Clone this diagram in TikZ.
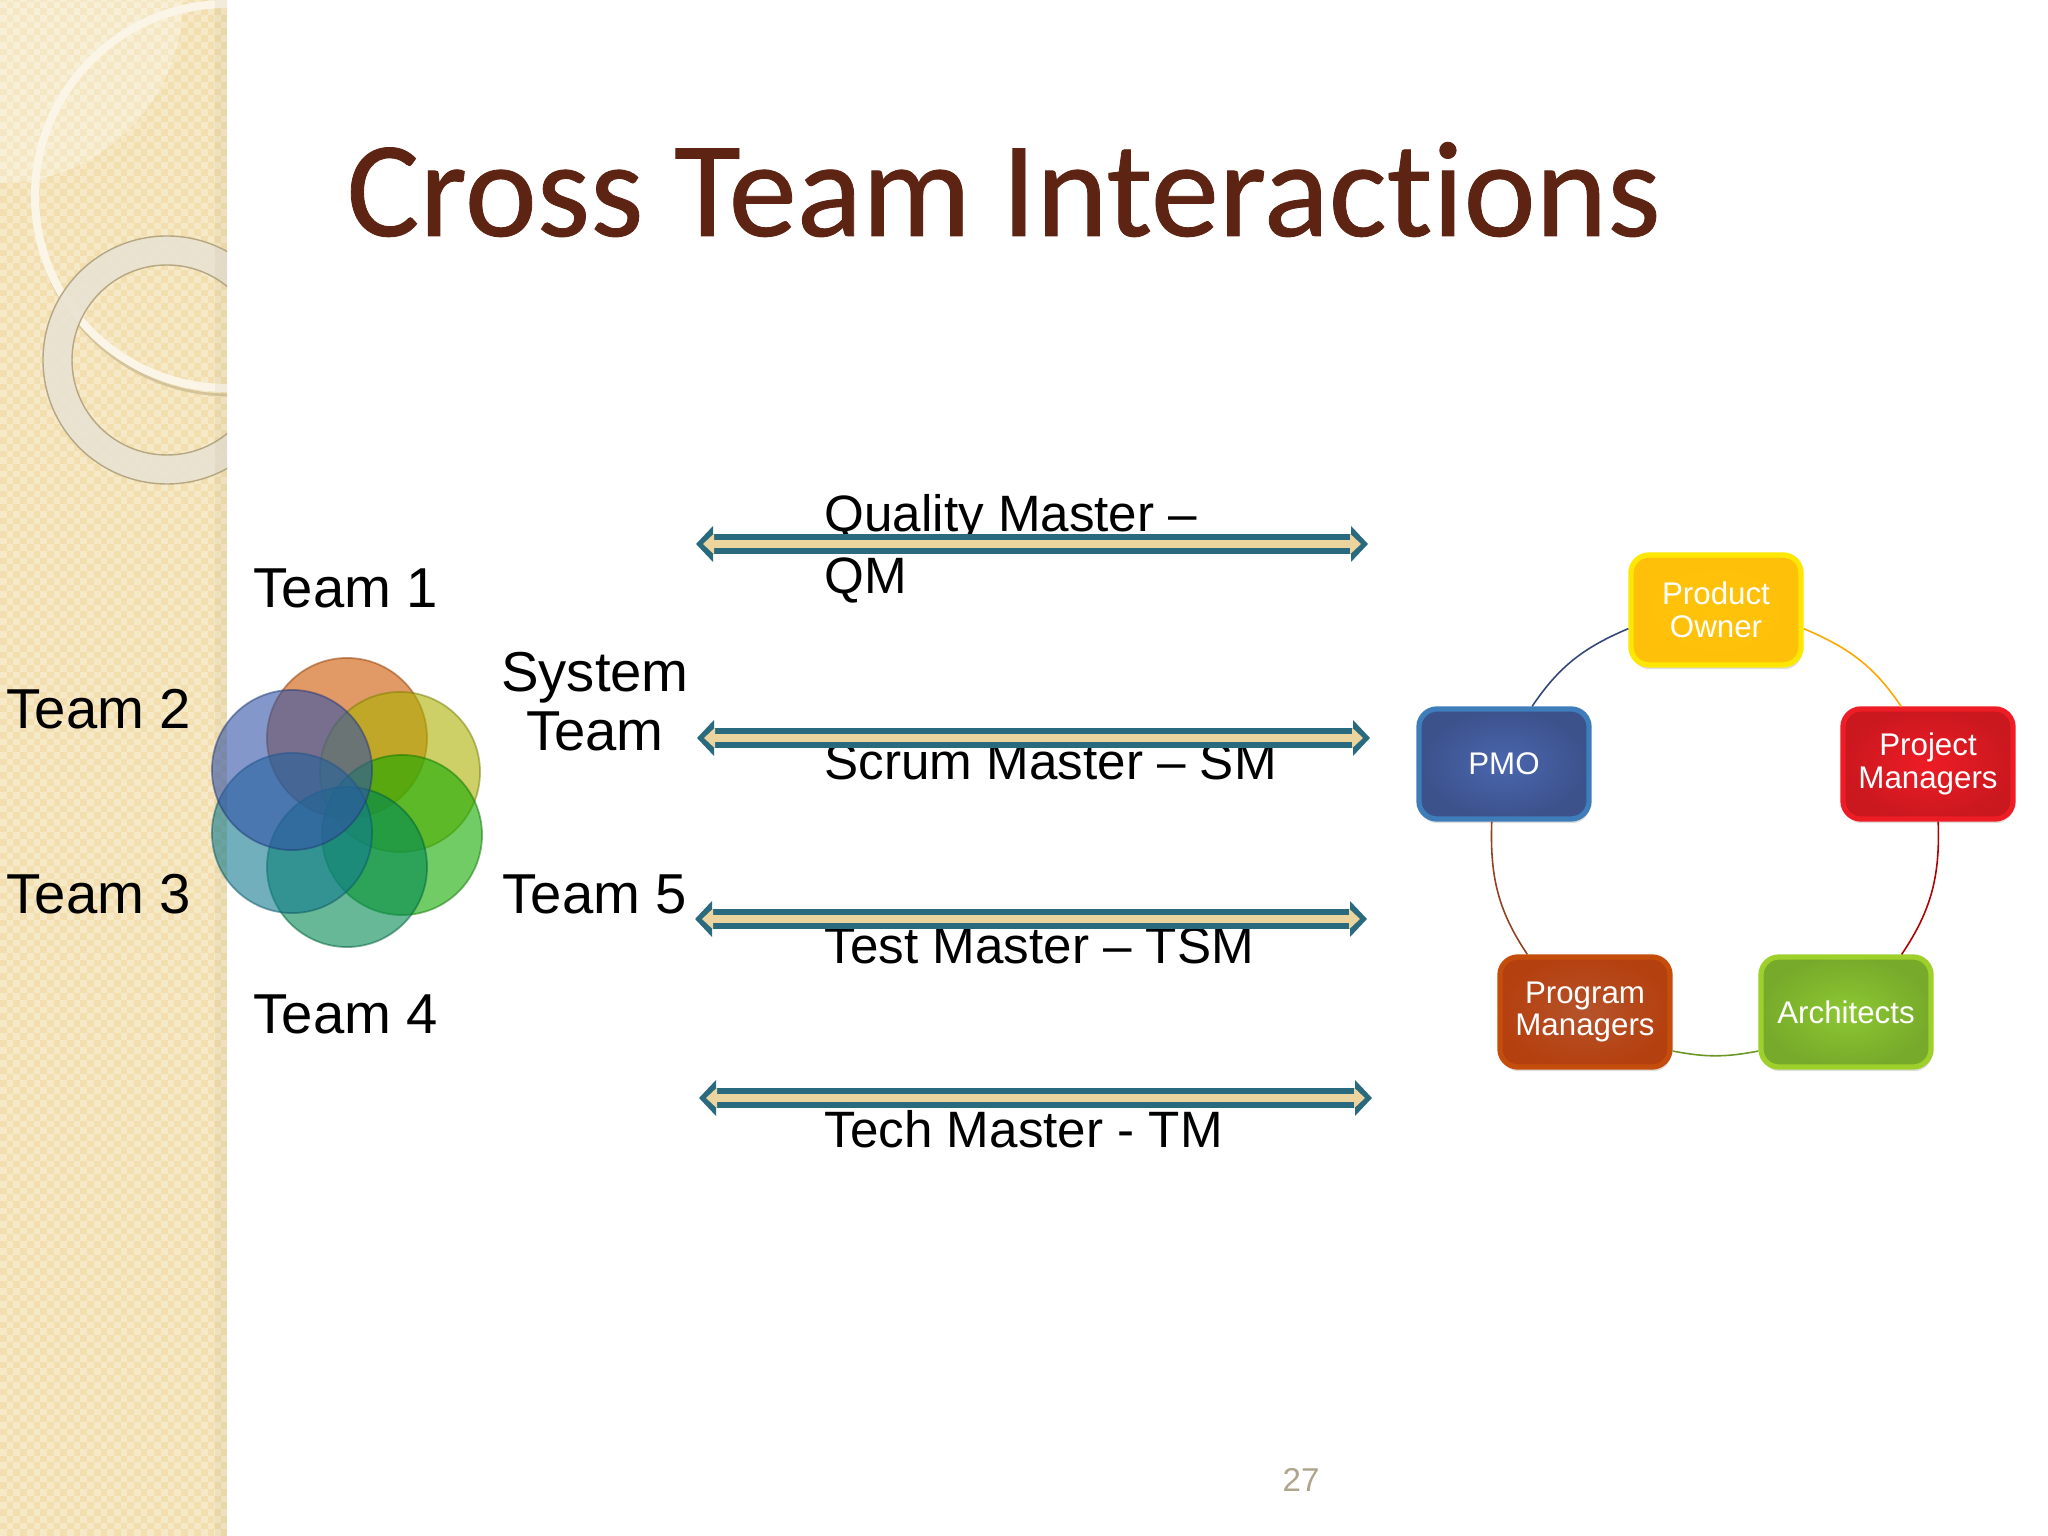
\documentclass[tikz,border=0pt]{standalone}
\usepackage{fontspec}
\setmainfont{Liberation Sans}
\newfontfamily\titlefont[Ligatures=NoCommon,FakeBold=0.6]{Carlito}
\usetikzlibrary{arrows.meta,shadows}
\definecolor{sidebase}{HTML}{F2DEAE}
\definecolor{sidecheck}{HTML}{F6E9C8}
\definecolor{sidering}{HTML}{E9E3D2}
\definecolor{titlebrown}{HTML}{5E2413}
\definecolor{barteal}{HTML}{2A6A7E}
\definecolor{bartan}{HTML}{EBD49E}
\definecolor{numgrey}{HTML}{AFA58C}
\definecolor{blobor}{RGB}{205,85,0}
\definecolor{bloby}{RGB}{172,177,0}
\definecolor{blobg}{RGB}{20,170,0}
\definecolor{blobs}{RGB}{0,137,83}
\definecolor{blobt}{RGB}{17,123,143}
\definecolor{blobb}{RGB}{50,82,167}
\definecolor{pofill}{HTML}{FFC30A}
\definecolor{pmfill}{HTML}{EE1C25}
\definecolor{arfill}{HTML}{8CC832}
\definecolor{pgfill}{HTML}{B5532B}
\definecolor{pgedge}{HTML}{B5400F}
\definecolor{pmofill}{HTML}{4A66AE}
\tikzset{
  teamtxt/.style={font=\fontsize{16}{16.8}\selectfont, align=center, inner sep=0pt},
  mastertxt/.style={font=\fontsize{14.55}{17.5}\selectfont, align=left, inner sep=0pt},
  blob/.style={circle, minimum size=1.6cm, inner sep=0pt, fill=#1, draw=#1!70!black, line width=.5pt, fill opacity=.6, draw opacity=.5},
  rolebox/.style={rectangle, rounded corners=.18cm, minimum width=1.7cm, minimum height=1.1cm, inner sep=0pt,
    align=center, text=white, font=\fontsize{8.9}{9.3}\selectfont, line width=1.5pt, draw=#1,
    drop shadow={shadow xshift=.3pt, shadow yshift=-1.2pt, opacity=.25}},
  roleline/.style={line width=.45pt},
  barout/.style={barteal, line width=5.5pt, {Triangle[length=.17cm,width=.35cm]}-{Triangle[length=.17cm,width=.35cm]}},
  barin/.style={bartan, line width=2pt, shorten >=.07cm, shorten <=.07cm, {Triangle[length=.11cm,width=.2cm]}-{Triangle[length=.11cm,width=.2cm]}},
}
\begin{document}
\begin{tikzpicture}[x=.01cm,y=.01cm]
\useasboundingbox (0,0) rectangle (2048,1536);
\fill[white] (0,0) rectangle (2048,1536);
% sidebar
\begin{scope}
\clip (0,0) rectangle (227,1536);
\fill[sidebase] (0,0) rectangle (227,1536);
\foreach \i in {0,...,17}
  \foreach \j in {0,...,115} {
    \fill[sidecheck] (\i*13.4,\j*13.4) rectangle ++(6.7,6.7);
    \fill[sidecheck] (\i*13.4+6.7,\j*13.4+6.7) rectangle ++(6.7,6.7);
  }
\fill[white, opacity=.28] (0,1536) circle (183);
\draw[black!12!sidebase, line width=.8pt] (229,1336) circle (195);
\draw[white!70!sidebase, line width=2.3pt] (227,1340) circle (192);
\fill[sidering, opacity=.9, even odd rule] (167,1176) circle (124) (167,1176) circle (95);
\draw[black!25!sidebase, line width=.4pt] (167,1176) circle (124) (167,1176) circle (95);
\fill[sidebase!70!black, opacity=.1] (215,0) rectangle (227,1536);
\end{scope}
% title
\node[inner sep=0pt, anchor=base west, text=titlebrown, font=\titlefont\fontsize{38.8}{44}\selectfont] (title) at (346,1300) {Cross Team Interactions};
% teams
\node[blob=blobor] (c1) at (347,798) {};
\node[blob=bloby] (c2) at (400,764) {};
\node[blob=blobg] (c3) at (402,701) {};
\node[blob=blobs] (c4) at (347,669) {};
\node[blob=blobt] (c5) at (292,703) {};
\node[blob=blobb] (c6) at (292,766) {};
\node[teamtxt] (t1) at (346,948) {Team 1};
\node[teamtxt] (t2) at (99,827) {Team 2};
\node[teamtxt] (t3) at (99,642) {Team 3};
\node[teamtxt] (t4) at (346,522) {Team 4};
\node[teamtxt] (t5) at (595,642) {Team 5};
\node[teamtxt] (t6) at (595,834) {System\\Team};
% masters
\node[mastertxt, anchor=west] (m1) at (824,987) {Quality Master --\\QM};
\node[mastertxt, anchor=base west] (m2) at (824,756) {Scrum Master -- SM};
\node[mastertxt, anchor=base west] (m3) at (824,572) {Test Master -- TSM};
\node[mastertxt, anchor=base west] (m4) at (824,388) {Tech Master - TM};
\coordinate (a1) at (696,992); \coordinate (b1) at (1368,992);
\coordinate (a2) at (697,798); \coordinate (b2) at (1370,798);
\coordinate (a3) at (695,617); \coordinate (b3) at (1367,617);
\coordinate (a4) at (699,438); \coordinate (b4) at (1372,438);
\foreach \n in {1,...,4} {
  \draw[barout] (a\n) -- (b\n);
  \draw[barin] (a\n) -- (b\n);
}
% roles
\node[rolebox={yellow!90!orange}, inner color=pofill, outer color=pofill!95!orange] (po) at (1716,926) {Product\\Owner};
\node[rolebox=pmfill, inner color=pmfill, outer color=pmfill!85!black] (pm) at (1928,772) {Project\\Managers};
\node[rolebox=arfill!85!yellow, inner color=arfill, outer color=arfill!85!black] (ar) at (1846,524) {Architects};
\node[rolebox=pgedge!80!orange, inner color=pgfill, outer color=pgedge] (pg) at (1585,524) {Program\\Managers};
\node[rolebox=pmofill!85!cyan, inner color=pmofill, outer color=pmofill!80!black] (pmo) at (1504,772) {PMO};
\draw[roleline, orange!70!yellow] (po.-12) to[out=-23,in=124] (pm.115);
\draw[roleline, red!70!black] (pm.-80) to[out=-88,in=56] (ar.46);
\draw[roleline, arfill!75!black] (ar.204) to[out=191,in=-11] (pg.-24);
\draw[roleline, pgfill!80!black] (pg.135) to[out=124,in=268] (pmo.258);
\draw[roleline, pmofill!70!black] (pmo.64) to[out=56,in=203] (po.192);
\node[inner sep=0pt, text=numgrey, font=\fontsize{9.4}{10}\selectfont] (pnum) at (1301,56) {27};
\end{tikzpicture}
\end{document}
